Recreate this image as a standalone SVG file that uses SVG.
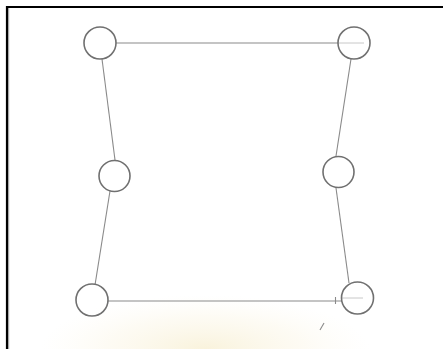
<svg xmlns="http://www.w3.org/2000/svg" width="443" height="349" viewBox="0 0 443 349">
<defs>
<style>
.node{fill:none;stroke:#707070;stroke-width:1.6}
.edge{stroke:#8a8a8a;stroke-width:1.1;fill:none}
.faint{stroke:#c8c8c8;stroke-width:1;fill:none}
.frame{stroke:#000;stroke-width:2.2;fill:none}
</style>
<radialGradient id="wm" cx="0.5" cy="1" r="0.5">
<stop offset="0" stop-color="#f3e6b8" stop-opacity="0.5"/>
<stop offset="0.6" stop-color="#f8efd2" stop-opacity="0.25"/>
<stop offset="1" stop-color="#fbf6e4" stop-opacity="0"/>
</radialGradient>
</defs>
<rect x="0" y="0" width="443" height="349" fill="#fff"/>
<rect x="40" y="240" width="330" height="109" fill="url(#wm)"/>
<line x1="8.5" y1="8" x2="8.5" y2="349" stroke="#bbb" stroke-width="1.5"/>
<path class="frame" d="M7,349 V7 H443"/>
<g id="connectors">
<line class="edge" x1="116" y1="43" x2="338" y2="43"/>
<line class="faint" x1="338" y1="43" x2="364" y2="43"/>
<line class="edge" x1="102" y1="59" x2="115" y2="160"/>
<line class="edge" x1="110" y1="191" x2="95" y2="285"/>
<line class="edge" x1="351" y1="59" x2="336" y2="156"/>
<line class="edge" x1="336" y1="188" x2="349" y2="283"/>
<line class="edge" x1="108" y1="301" x2="342" y2="301"/>
<line class="faint" x1="342" y1="298" x2="363" y2="298"/>
<line class="edge" x1="335.5" y1="297" x2="335.5" y2="304"/>
<line class="edge" x1="324" y1="323" x2="320" y2="330"/>
</g>
<g id="n1"><circle class="node" cx="100" cy="43" r="16"/></g>
<g id="n2"><circle class="node" cx="354" cy="43" r="16"/></g>
<g id="n3"><circle class="node" cx="114.5" cy="176" r="15.5"/></g>
<g id="n4"><circle class="node" cx="338.5" cy="172" r="15.5"/></g>
<g id="n5"><circle class="node" cx="92" cy="300" r="16"/></g>
<g id="n6"><circle class="node" cx="357.5" cy="298" r="16"/></g>
</svg>
